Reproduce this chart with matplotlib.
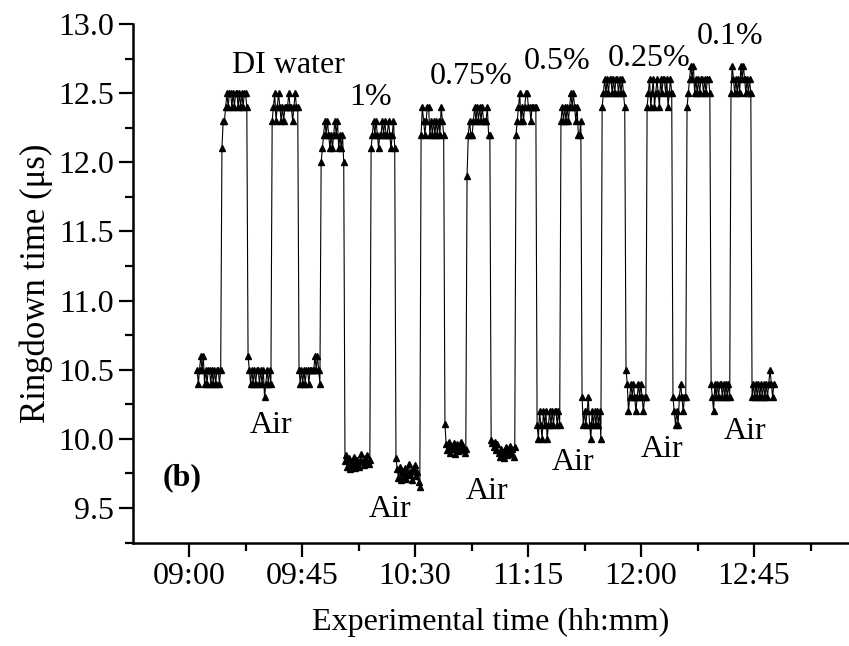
import numpy as np
import matplotlib.pyplot as plt
from matplotlib.ticker import MultipleLocator, FuncFormatter

plt.rcParams['font.family'] = ['Liberation Serif', 'DejaVu Serif']

# start time of each plateau (minutes after midnight), last entry = end of run
seg_start = [543.2, 553.1, 563.5, 573.1, 583.8, 592.6, 602.1, 612.5, 622.4,
             632.4, 641.9, 650.7, 660.3, 670.2, 678.6, 688.1, 696.5, 704.5,
             714.0, 722.4, 732.7, 738.3, 747.9, 755.8, 764.2, 773.4]

# ringdown readings (us) per plateau
air_1 = [10.5, 10.4, 10.5, 10.6, 10.5, 10.6, 10.4, 10.5, 10.4, 10.5, 10.5, 10.4,
         10.5, 10.4, 10.5, 10.4, 10.5, 10.5, 10.4, 10.5]
di_1 = [12.1, 12.3, 12.3, 12.4, 12.5, 12.4, 12.5, 12.5, 12.4, 12.5, 12.4, 12.5,
        12.5, 12.4, 12.5, 12.4, 12.5, 12.4, 12.5, 12.5, 12.4]
air_2 = [10.6, 10.5, 10.4, 10.5, 10.4, 10.5, 10.4, 10.5, 10.5, 10.4, 10.5, 10.4,
         10.5, 10.3, 10.4, 10.5, 10.4, 10.5, 10.4]
di_2 = [12.3, 12.4, 12.5, 12.3, 12.4, 12.5, 12.4, 12.3, 12.4, 12.3, 12.4, 12.4,
        12.4, 12.5, 12.4, 12.4, 12.3, 12.4, 12.5, 12.4, 12.4]
air_3 = [10.5, 10.4, 10.5, 10.4, 10.5, 10.4, 10.5, 10.5, 10.4, 10.5, 10.5, 10.5,
         10.5, 10.6, 10.5, 10.6, 10.5, 10.4]
c100_1 = [12.0, 12.1, 12.2, 12.3, 12.2, 12.3, 12.2, 12.1, 12.2, 12.1, 12.2, 12.3,
          12.2, 12.3, 12.1, 12.2, 12.1, 12.2, 12.0]
air_4 = [9.84, 9.88, 9.80, 9.86, 9.78, 9.83, 9.81, 9.87, 9.79, 9.82, 9.85, 9.80,
         9.84, 9.89, 9.83, 9.81, 9.86, 9.84, 9.88, 9.82, 9.85]
c100_2 = [12.1, 12.2, 12.3, 12.2, 12.3, 12.2, 12.1, 12.2, 12.2, 12.3, 12.2, 12.3,
          12.2, 12.2, 12.3, 12.2, 12.1, 12.2, 12.3, 12.1]
air_5 = [9.86, 9.78, 9.72, 9.80, 9.70, 9.76, 9.73, 9.79, 9.71, 9.75, 9.82, 9.74,
         9.77, 9.70, 9.78, 9.81, 9.73, 9.76, 9.69, 9.65]
c075_1 = [12.2, 12.4, 12.3, 12.2, 12.3, 12.4, 12.4, 12.2, 12.3, 12.2, 12.3, 12.2,
          12.3, 12.2, 12.3, 12.2, 12.4, 12.3, 12.2]
air_6 = [10.11, 9.96, 9.92, 9.98, 9.90, 9.95, 9.93, 9.97, 9.89, 9.94, 9.96, 9.91,
         9.95, 9.98, 9.92, 9.94, 9.90, 9.93]
c075_2 = [11.9, 12.2, 12.3, 12.2, 12.2, 12.3, 12.4, 12.3, 12.4, 12.3, 12.4, 12.3,
          12.4, 12.3, 12.3, 12.3, 12.4, 12.2, 12.2]
air_7 = [9.99, 9.97, 9.94, 9.98, 9.92, 9.96, 9.90, 9.87, 9.93, 9.89, 9.86, 9.91,
         9.94, 9.88, 9.92, 9.95, 9.89, 9.93, 9.87, 9.94]
c050_1 = [12.2, 12.3, 12.4, 12.5, 12.3, 12.4, 12.3, 12.4, 12.5, 12.5, 12.4, 12.4,
          12.3, 12.4, 12.4, 12.4, 12.4]
air_8 = [10.1, 10.0, 10.2, 10.1, 10.0, 10.2, 10.1, 10.2, 10.0, 10.1, 10.2, 10.1,
         10.2, 10.1, 10.2, 10.2, 10.1, 10.2, 10.1]
c050_2 = [12.3, 12.4, 12.3, 12.4, 12.3, 12.4, 12.3, 12.4, 12.5, 12.4, 12.5, 12.4,
          12.3, 12.4, 12.2, 12.2, 12.3]
air_9 = [10.3, 10.1, 10.2, 10.1, 10.2, 10.3, 10.1, 10.0, 10.2, 10.1, 10.2, 10.1,
         10.2, 10.1, 10.2, 10.0]
c025_1 = [12.4, 12.5, 12.6, 12.5, 12.6, 12.5, 12.6, 12.6, 12.5, 12.6, 12.5, 12.6,
          12.6, 12.5, 12.6, 12.5, 12.6, 12.5, 12.4]
air_10 = [10.5, 10.4, 10.2, 10.3, 10.4, 10.3, 10.4, 10.3, 10.2, 10.3, 10.4, 10.3,
          10.4, 10.3, 10.2, 10.3, 10.3]
c025_2 = [12.4, 12.5, 12.6, 12.4, 12.5, 12.6, 12.4, 12.5, 12.6, 12.5, 12.4, 12.6,
          12.5, 12.6, 12.6, 12.5, 12.6, 12.4, 12.5, 12.6, 12.5]
air_11 = [10.3, 10.2, 10.1, 10.2, 10.1, 10.3, 10.4, 10.3, 10.2, 10.3, 10.3]
c010_1 = [12.4, 12.5, 12.6, 12.7, 12.6, 12.7, 12.5, 12.6, 12.5, 12.6, 12.5, 12.6,
          12.6, 12.5, 12.6, 12.5, 12.6, 12.6, 12.5]
air_12 = [10.4, 10.3, 10.2, 10.4, 10.3, 10.4, 10.3, 10.4, 10.4, 10.3, 10.4, 10.3,
          10.4, 10.3, 10.4, 10.3]
c010_2 = [12.5, 12.7, 12.6, 12.5, 12.6, 12.5, 12.6, 12.5, 12.7, 12.6, 12.7, 12.6,
          12.5, 12.6, 12.5, 12.6, 12.5]
air_13 = [10.3, 10.4, 10.3, 10.4, 10.3, 10.4, 10.3, 10.4, 10.3, 10.4, 10.3, 10.4,
          10.3, 10.4, 10.5, 10.4, 10.3, 10.4]

segments = [air_1, di_1, air_2, di_2, air_3, c100_1, air_4, c100_2, air_5,
            c075_1, air_6, c075_2, air_7, c050_1, air_8, c050_2, air_9,
            c025_1, air_10, c025_2, air_11, c010_1, air_12, c010_2, air_13]

# labels: (text, x in minutes, y)
liquid_labels = [('DI water', 579.4, 12.70), ('1%', 612.1, 12.47),
                 ('0.75%', 652.3, 12.62), ('0.5%', 686.6, 12.73),
                 ('0.25%', 723.2, 12.75), ('0.1%', 755.4, 12.91)]
air_labels = [(572.7, 10.10), (620.0, 9.49), (658.7, 9.62),
              (693.0, 9.83), (728.4, 9.92), (761.4, 10.05)]

# sample times: readings spread evenly across each plateau
t = []
v = []
for i, seg in enumerate(segments):
    t0, t1 = seg_start[i], seg_start[i + 1]
    n = len(seg)
    t.extend(t0 + (t1 - t0) * np.arange(n) / n)
    v.extend(seg)

fig = plt.figure(figsize=(8.49, 6.46), dpi=100)
ax = fig.add_axes([0.1567, 0.1594, 0.8433, 0.8034])

ax.plot(t, v, color='black', linewidth=0.8, marker='^', markersize=5,
        markerfacecolor='black', markeredgecolor='black')

for txt, x, y in liquid_labels:
    ax.text(x, y, txt, fontsize=23, ha='center', va='center')
for x, y in air_labels:
    ax.text(x, y, 'Air', fontsize=23, ha='center', va='center')
ax.text(537.2, 9.72, '(b)', fontsize=23, fontweight='bold', ha='center', va='center')

ax.set_xlim(517.7, 802.8)
ax.set_ylim(9.247, 13.0)

ax.xaxis.set_major_locator(MultipleLocator(45))
ax.xaxis.set_minor_locator(MultipleLocator(22.5))
ax.xaxis.set_major_formatter(FuncFormatter(lambda m, p: f'{int(m // 60):02d}:{int(m % 60):02d}'))
ax.yaxis.set_major_locator(MultipleLocator(0.5))
ax.yaxis.set_minor_locator(MultipleLocator(0.25))
ax.yaxis.set_major_formatter(FuncFormatter(lambda y, p: f'{y:.1f}'))

for side in ['top', 'right']:
    ax.spines[side].set_visible(False)
for side in ['left', 'bottom']:
    ax.spines[side].set_linewidth(1.8)

ax.tick_params(which='major', direction='out', length=10, width=1.6, labelsize=23)
ax.tick_params(which='minor', direction='out', length=6, width=1.6)

ax.set_xlabel('Experimental time (hh:mm)', fontsize=23, labelpad=12)
ax.set_ylabel('Ringdown time (μs)', fontsize=25, labelpad=4)

fig.savefig('out.png', dpi=100)
